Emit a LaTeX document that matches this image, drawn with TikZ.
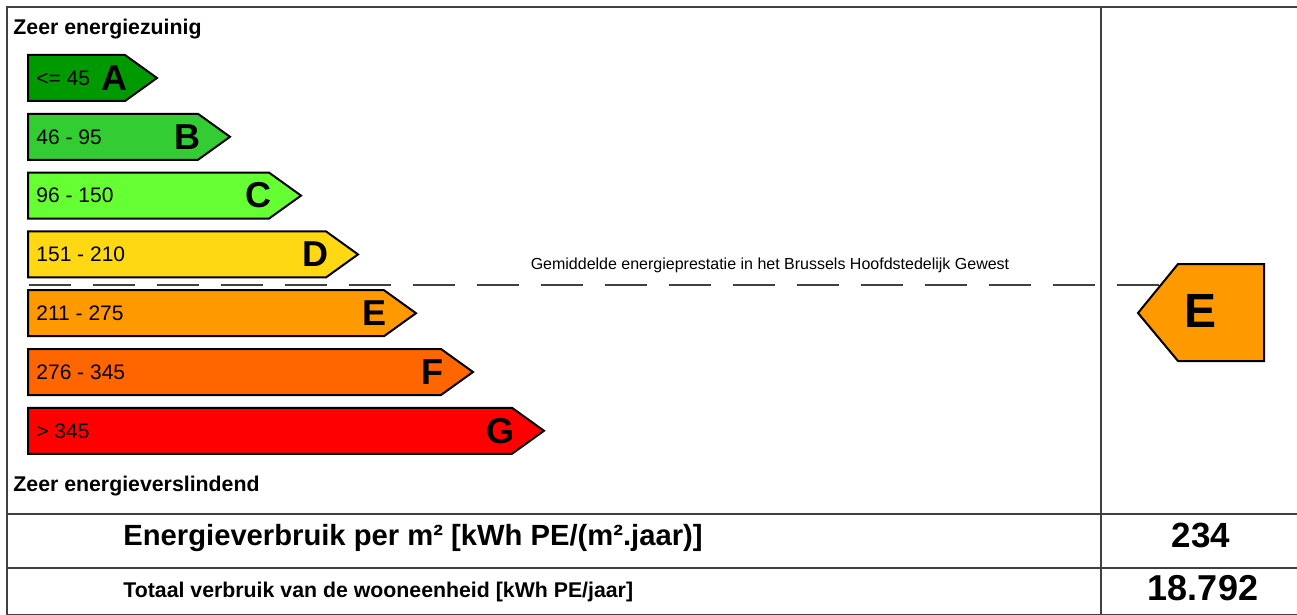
\documentclass[tikz,border=0pt]{standalone}
\usepackage{fontspec}
\setmainfont{Liberation Sans}
\usepackage{tikz}
\usepackage{xcolor}
\definecolor{ClassA}{HTML}{009900}
\definecolor{ClassB}{HTML}{33CC33}
\definecolor{ClassC}{HTML}{66FF33}
\definecolor{ClassD}{HTML}{FFD814}
\definecolor{ClassE}{HTML}{FF9900}
\definecolor{ClassF}{HTML}{FF6600}
\definecolor{ClassG}{HTML}{FF0000}
\definecolor{FrameGray}{HTML}{404040}

\begin{document}
\begin{tikzpicture}[x=0.5pt, y=-0.5pt,
    frame/.style={draw=FrameGray, line width=1pt},
    classbar/.style={draw=black, line width=1pt, line join=miter},
    rangetxt/.style={inner sep=0pt, font=\fontsize{10.5}{12}\selectfont},
    classtxt/.style={inner sep=0pt, font=\fontsize{18}{20}\selectfont\bfseries}]
                \useasboundingbox (0,0) rectangle (1297,615);
                \clip (0,0) rectangle (1297,615);

                % Frame
                \draw[frame] (7,7) rectangle (1300,615);
                \draw[frame] (1101,7) -- (1101,615);
                \draw[frame] (7,514) -- (1300,514);
                \draw[frame] (7,568) -- (1300,568);

                % Scale ends
                \node[anchor=base west, inner sep=0pt, font=\fontsize{10.65}{12}\selectfont\bfseries] (efficient) at (13,35) {Zeer energiezuinig};
                \node[anchor=base west, inner sep=0pt, font=\fontsize{10.65}{12}\selectfont\bfseries] (wasteful) at (13,491) {Zeer energieverslindend};

                % Average line
                \draw[FrameGray, line width=1pt, dash pattern=on 21pt off 11pt] (29,285) -- (1161,285);
                \node[anchor=base, inner sep=0pt, font=\fontsize{8}{10}\selectfont] (average) at (770,270) {Gemiddelde energieprestatie in het Brussels Hoofdstedelijk Gewest};

                % Classes
                \foreach \cls/\rng/\xe/\clr [count=\i from 0] in {A/{<= 45}/125/ClassA, B/46 - 95/198/ClassB, C/96 - 150/269/ClassC, D/151 - 210/326/ClassD, E/211 - 275/384/ClassE, F/276 - 345/441/ClassF, G/{> 345}/512/ClassG} {
                    \pgfmathsetmacro{\yc}{78+58.8*\i}
                    \draw[classbar, fill=\clr] (28,\yc-23) -- (\xe,\yc-23) -- (\xe+32,\yc) -- (\xe,\yc+23) -- (28,\yc+23) -- cycle;
                    \node[rangetxt, anchor=west] (range\cls) at (36,\yc) {\rng};
                    \node[classtxt, anchor=east] (class\cls) at (\xe+3,\yc) {\cls};
                }

                % Result
                \draw[classbar, fill=ClassE] (1138,313) -- (1178,264) -- (1264,264) -- (1264,361) -- (1178,361) -- cycle;
                \node[inner sep=0pt, font=\fontsize{24}{28}\selectfont\bfseries] (result) at (1200,311) {E};

                % Totals
                \node[anchor=base west, inner sep=0pt, font=\fontsize{14.6}{17}\selectfont\bfseries] (perarea) at (123,545) {Energieverbruik per m² [kWh PE/(m².jaar)]};
                \node[anchor=base west, inner sep=0pt, font=\fontsize{10.65}{12}\selectfont\bfseries] (total) at (123,597) {Totaal verbruik van de wooneenheid [kWh PE/jaar]};
                \node[anchor=base, inner sep=0pt, font=\fontsize{17.5}{20}\selectfont\bfseries] (perareaval) at (1201,547) {234};
                \node[anchor=base, inner sep=0pt, font=\fontsize{18}{21}\selectfont\bfseries] (totalval) at (1203,600) {18.792};
            \end{tikzpicture}
\end{document}
